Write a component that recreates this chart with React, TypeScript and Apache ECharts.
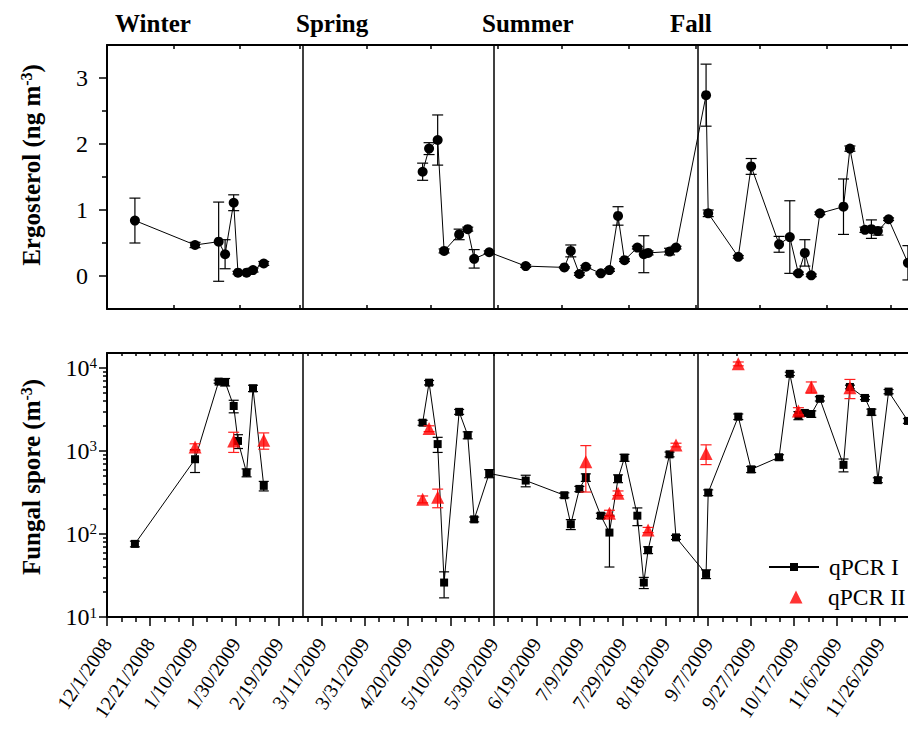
import React, { useEffect, useRef } from 'react';
import * as echarts from 'echarts';

const FONT = '"Liberation Serif", "Times New Roman", serif';

// ---------------- data ----------------
const sampleDates = [
  '2008-12-14', '2009-01-11', '2009-01-22', '2009-01-25', '2009-01-29', '2009-01-31', '2009-02-04', '2009-02-07', '2009-02-12',
  '2009-04-27', '2009-04-30', '2009-05-04', '2009-05-07', '2009-05-14', '2009-05-18', '2009-05-21', '2009-05-28',
  '2009-06-14', '2009-07-02', '2009-07-05', '2009-07-09', '2009-07-12', '2009-07-19', '2009-07-23', '2009-07-27',
  '2009-07-30', '2009-08-05', '2009-08-08', '2009-08-10', '2009-08-20', '2009-08-23',
  '2009-09-06', '2009-09-07', '2009-09-21', '2009-09-27', '2009-10-10', '2009-10-15', '2009-10-19', '2009-10-22',
  '2009-10-25', '2009-10-29', '2009-11-09', '2009-11-12', '2009-11-19', '2009-11-22', '2009-11-25', '2009-11-30', '2009-12-09',
];

// Ergosterol (ng m-3)
const ergosterol = [
  0.84, 0.47, 0.52, 0.33, 1.11, 0.05, 0.05, 0.09, 0.19,
  1.58, 1.93, 2.06, 0.38, 0.63, 0.71, 0.26, 0.36,
  0.15, 0.13, 0.38, 0.03, 0.14, 0.04, 0.09, 0.91, 0.24, 0.43, 0.33, 0.35, 0.37, 0.43,
  2.74, 0.95, 0.29, 1.66, 0.48, 0.59, 0.04, 0.35, 0.01, 0.95, 1.05, 1.93, 0.70, 0.71, 0.68, 0.86, 0.20,
];
const ergosterolErr = [
  0.34, 0.04, 0.60, 0.22, 0.12, 0.02, 0.02, 0.03, 0.03,
  0.13, 0.09, 0.38, 0.03, 0.08, 0.03, 0.14, 0.02,
  0.02, 0.01, 0.09, 0.02, 0.02, 0.01, 0.02, 0.14, 0.02, 0.02, 0.28, 0.03, 0.05, 0.02,
  0.47, 0.05, 0.02, 0.12, 0.12, 0.55, 0.02, 0.20, 0.02, 0.02, 0.42, 0.04, 0.04, 0.14, 0.06, 0.02, 0.26,
];

// Fungal spore (m-3), qPCR I
const qpcr1 = [
  76, 795, 6840, 6760, 3480, 1320, 548, 5690, 380,
  2190, 6650, 1210, 26, 2960, 1550, 150, 536,
  440, 293, 131, 349, 480, 166, 104, 465, 830, 166, 26, 64, 910, 91,
  33, 315, 2590, 600, 840, 8490, 2680, 2870, 2790, 4250, 680, 5900, 4350, 2940, 445, 5190, 2300,
];
const qpcr1Err = [
  6, 245, 300, 700, 600, 250, 60, 500, 50,
  150, 400, 250, 9, 200, 150, 10, 60,
  70, 20, 18, 25, 50, 12, 64, 50, 80, 40, 4, 6, 60, 5,
  4, 25, 200, 50, 60, 400, 300, 200, 250, 250, 120, 300, 200, 250, 30, 300, 150,
];

// Fungal spore (m-3), qPCR II
const qpcr2Dates = [
  '2009-01-11', '2009-01-29', '2009-02-12', '2009-04-27', '2009-04-30', '2009-05-04', '2009-07-12', '2009-07-23',
  '2009-07-27', '2009-08-10', '2009-08-23', '2009-09-06', '2009-09-21', '2009-10-19', '2009-10-25', '2009-11-12',
];
const qpcr2 = [1120, 1320, 1350, 262, 1860, 277, 740, 178, 310, 112, 1180, 935, 11200, 3020, 5880, 5770];
const qpcr2Err = [100, 360, 300, 25, 150, 70, 420, 15, 20, 8, 60, 250, 600, 300, 900, 1500];

const seasonNames = ['Winter', 'Spring', 'Summer', 'Fall'];
const seasonBoundaries = ['2009-03-02', '2009-05-30', '2009-09-02'];

const ergosterolTicks = [0, 1, 2, 3];
const ergosterolMinorTicks = [0.5, 1.5, 2.5];
const sporeTicks = [10, 100, 1000, 10000];

// ---------------- helpers ----------------
const ORIGIN = Date.UTC(2008, 11, 1);
const DAY = 86400000;
const toDay = (s: string) => {
  const [y, m, d] = s.split('-').map(Number);
  return (Date.UTC(y, m - 1, d) - ORIGIN) / DAY;
};
const fmtDay = (v: number) => {
  const dt = new Date(ORIGIN + Math.round(v) * DAY);
  return `${dt.getUTCMonth() + 1}/${dt.getUTCDate()}/${dt.getUTCFullYear()}`;
};
const X_MAX = 380;
const monthStarts = Array.from({ length: 12 }, (_, i) => (Date.UTC(2009, i, 1) - ORIGIN) / DAY);
const sporeMinorTicks: number[] = [];
[10, 100, 1000].forEach((b) => { for (let k = 2; k <= 9; k++) sporeMinorTicks.push(k * b); });
const SPORE_MAX = Math.pow(10, 4.18);

// break the line where the sampling had a long pause (no samples between campaigns)
const lineData = (days: number[], vals: number[]) => {
  const out: any[] = [];
  days.forEach((d, i) => {
    if (i > 0 && d - days[i - 1] > 40) out.push([(d + days[i - 1]) / 2, null]);
    out.push([d, vals[i]]);
  });
  return out;
};

const errRender = (color: string, cap: number, floor: number | null) => (params: any, api: any) => {
  const x = api.value(0);
  let lo = api.value(1);
  const hi = api.value(2);
  if (floor !== null && lo < floor) lo = floor;
  const p1 = api.coord([x, lo]);
  const p2 = api.coord([x, hi]);
  const st = { stroke: color, lineWidth: 1.2 };
  return {
    type: 'group',
    children: [
      { type: 'line', shape: { x1: p1[0], y1: p1[1], x2: p2[0], y2: p2[1] }, style: st },
      { type: 'line', shape: { x1: p1[0] - cap, y1: p1[1], x2: p1[0] + cap, y2: p1[1] }, style: st },
      { type: 'line', shape: { x1: p2[0] - cap, y1: p2[1], x2: p2[0] + cap, y2: p2[1] }, style: st },
    ],
  };
};

export default function App() {
  const ref = useRef<HTMLDivElement>(null);
  useEffect(() => {
    if (!ref.current) return;
    const chart = echarts.init(ref.current, undefined, { renderer: 'svg' });

    const days = sampleDates.map(toDay);
    const axisLine = { color: '#000', width: 2 };
    const tickLine = { color: '#000', width: 1.5 };
    const sepLine = {
      silent: true,
      symbol: ['none', 'none'],
      label: { show: false },
      lineStyle: { color: '#000', width: 1.5, type: 'solid' },
      emphasis: { disabled: true },
      data: seasonBoundaries.map((d) => ({ xAxis: toDay(d) })),
    };
    const legendText = { fontFamily: FONT, fontSize: 23.5, color: '#000' };

    const option: any = {
      animation: false,
      backgroundColor: '#fff',
      grid: [
        { left: 107, top: 45, width: X_MAX * 2.1472, height: 264 },
        { left: 107, top: 353, width: X_MAX * 2.1472, height: 264 },
      ],
      xAxis: [
        {
          gridIndex: 0, type: 'value', position: 'bottom', min: 0, max: X_MAX,
          axisLine: { onZero: false, lineStyle: axisLine },
          axisTick: { show: true, inside: true, length: 4, customValues: monthStarts, lineStyle: tickLine },
          axisLabel: { show: false }, splitLine: { show: false },
        },
        {
          gridIndex: 0, type: 'value', position: 'top', min: 0, max: X_MAX,
          axisLine: { onZero: false, lineStyle: axisLine },
          axisTick: { show: true, inside: true, length: 4, customValues: monthStarts, lineStyle: tickLine },
          axisLabel: { show: false }, splitLine: { show: false },
        },
        {
          gridIndex: 1, type: 'value', position: 'bottom', min: 0, max: X_MAX, interval: 20,
          axisLine: { onZero: false, lineStyle: axisLine },
          axisTick: { show: true, length: 9, lineStyle: tickLine },
          minorTick: { show: true, splitNumber: 3, length: 5, lineStyle: tickLine },
          axisLabel: {
            rotate: 56, fontFamily: FONT, fontSize: 20, color: '#000', margin: 23,
            formatter: (v: number) => fmtDay(v), showMaxLabel: false,
          },
          splitLine: { show: false }, minorSplitLine: { show: false },
        },
        {
          gridIndex: 1, type: 'value', position: 'top', min: 0, max: X_MAX, interval: 20,
          axisLine: { onZero: false, lineStyle: axisLine },
          axisTick: { show: true, inside: true, length: 3, lineStyle: tickLine },
          minorTick: { show: true, splitNumber: 3, length: 3, lineStyle: tickLine },
          axisLabel: { show: false }, splitLine: { show: false }, minorSplitLine: { show: false },
        },
      ],
      yAxis: [
        {
          gridIndex: 0, type: 'value', position: 'left', min: -0.5, max: 3.5, interval: 0.5,
          axisLine: { show: true, onZero: false, lineStyle: axisLine },
          axisTick: { show: true, length: 8, customValues: ergosterolTicks, lineStyle: tickLine },
          axisLabel: { customValues: ergosterolTicks, fontFamily: FONT, fontSize: 24, color: '#000', margin: 19 },
          splitLine: { show: false },
        },
        {
          gridIndex: 0, type: 'value', position: 'left', min: -0.5, max: 3.5, interval: 0.5,
          axisLine: { show: false, onZero: false },
          axisTick: { show: true, length: 5, customValues: ergosterolMinorTicks, lineStyle: tickLine },
          axisLabel: { show: false }, splitLine: { show: false },
        },
        {
          gridIndex: 1, type: 'log', logBase: 10, position: 'left', min: 10, max: SPORE_MAX,
          axisLine: { show: true, onZero: false, lineStyle: axisLine },
          axisTick: { show: true, length: 8, customValues: sporeTicks, lineStyle: tickLine },
          axisLabel: {
            customValues: sporeTicks, fontFamily: FONT, fontSize: 24, color: '#000', margin: 10,
            formatter: (v: number) => `10{s|${Math.round(Math.log10(v))}}`,
            rich: { s: { fontFamily: FONT, fontSize: 15, color: '#000', verticalAlign: 'top' } },
          },
          splitLine: { show: false },
        },
        {
          gridIndex: 1, type: 'log', logBase: 10, position: 'left', min: 10, max: SPORE_MAX,
          axisLine: { show: false, onZero: false },
          axisTick: { show: true, length: 4, customValues: sporeMinorTicks, lineStyle: tickLine },
          axisLabel: { show: false }, splitLine: { show: false },
        },
      ],
      legend: [
        {
          orient: 'vertical', left: 768, top: 555, padding: 0, itemWidth: 50, itemHeight: 10,
          textStyle: { ...legendText, padding: [0, 0, 0, 5] },
          data: ['qPCR I'], selectedMode: false,
        },
        {
          orient: 'vertical', left: 789.5, top: 585, padding: 0, itemWidth: 13, itemHeight: 13,
          textStyle: { ...legendText, padding: [0, 0, 0, 20.5] },
          data: ['qPCR II'], selectedMode: false,
        },
      ],
      series: [
        {
          type: 'custom', name: 'ergErr', xAxisIndex: 0, yAxisIndex: 0, z: 1,
          renderItem: errRender('#000', 5.5, null),
          encode: { x: 0, y: [1, 2] },
          data: days.map((d, i) => [d, ergosterol[i] - ergosterolErr[i], ergosterol[i] + ergosterolErr[i]]),
        },
        {
          type: 'line', name: 'Ergosterol', xAxisIndex: 0, yAxisIndex: 0, z: 3,
          symbol: 'circle', symbolSize: 10, showSymbol: true, connectNulls: false,
          itemStyle: { color: '#000' }, lineStyle: { color: '#000', width: 1 },
          emphasis: { disabled: true },
          data: lineData(days, ergosterol),
          markLine: sepLine,
        },
        {
          type: 'custom', name: 'q1Err', xAxisIndex: 2, yAxisIndex: 2, z: 1,
          renderItem: errRender('#000', 5, 1),
          encode: { x: 0, y: [1, 2] },
          data: days.map((d, i) => [d, qpcr1[i] - qpcr1Err[i], qpcr1[i] + qpcr1Err[i]]),
        },
        {
          type: 'line', name: 'qPCR I', xAxisIndex: 2, yAxisIndex: 2, z: 3,
          symbol: 'rect', symbolSize: 8, showSymbol: true, connectNulls: false,
          itemStyle: { color: '#000' }, lineStyle: { color: '#000', width: 1 },
          emphasis: { disabled: true },
          data: lineData(days, qpcr1),
          markLine: sepLine,
        },
        {
          type: 'custom', name: 'q2Err', xAxisIndex: 2, yAxisIndex: 2, z: 4,
          renderItem: errRender('#ff2020', 5.5, 1),
          encode: { x: 0, y: [1, 2] },
          data: qpcr2Dates.map((d, i) => [toDay(d), qpcr2[i] - qpcr2Err[i], qpcr2[i] + qpcr2Err[i]]),
        },
        {
          type: 'scatter', name: 'qPCR II', xAxisIndex: 2, yAxisIndex: 2, z: 5,
          symbol: 'triangle', symbolSize: 13,
          itemStyle: { color: '#ff0000' },
          emphasis: { disabled: true },
          data: qpcr2Dates.map((d, i) => [toDay(d), qpcr2[i]]),
        },
      ],
      graphic: [
        ...seasonNames.map((s, i) => ({
          type: 'text', x: [115, 296, 482, 670][i], y: 23,
          style: { text: s, fontFamily: FONT, fontSize: 25, fontWeight: 'bold', fill: '#000', verticalAlign: 'middle' },
        })),
        {
          type: 'text', x: 31, y: 165, rotation: Math.PI / 2,
          style: {
            text: '{b|Ergosterol (ng m}{s|-3}{b|)}', align: 'center', verticalAlign: 'middle',
            rich: {
              b: { fontFamily: FONT, fontSize: 25, fontWeight: 'bold', fill: '#000' },
              s: { fontFamily: FONT, fontSize: 16, fontWeight: 'bold', fill: '#000', verticalAlign: 'top' },
            },
          },
        },
        {
          type: 'text', x: 31, y: 477, rotation: Math.PI / 2,
          style: {
            text: '{b|Fungal spore (m}{s|-3}{b|)}', align: 'center', verticalAlign: 'middle',
            rich: {
              b: { fontFamily: FONT, fontSize: 25, fontWeight: 'bold', fill: '#000' },
              s: { fontFamily: FONT, fontSize: 16, fontWeight: 'bold', fill: '#000', verticalAlign: 'top' },
            },
          },
        },
      ],
    };
    chart.setOption(option);
    return () => chart.dispose();
  }, []);

  return (
    <div style={{ position: 'fixed', left: 0, top: 0, width: 908, height: 732, overflow: 'hidden', background: '#fff' }}>
      <div ref={ref} style={{ width: 960, height: 732 }} />
    </div>
  );
}
